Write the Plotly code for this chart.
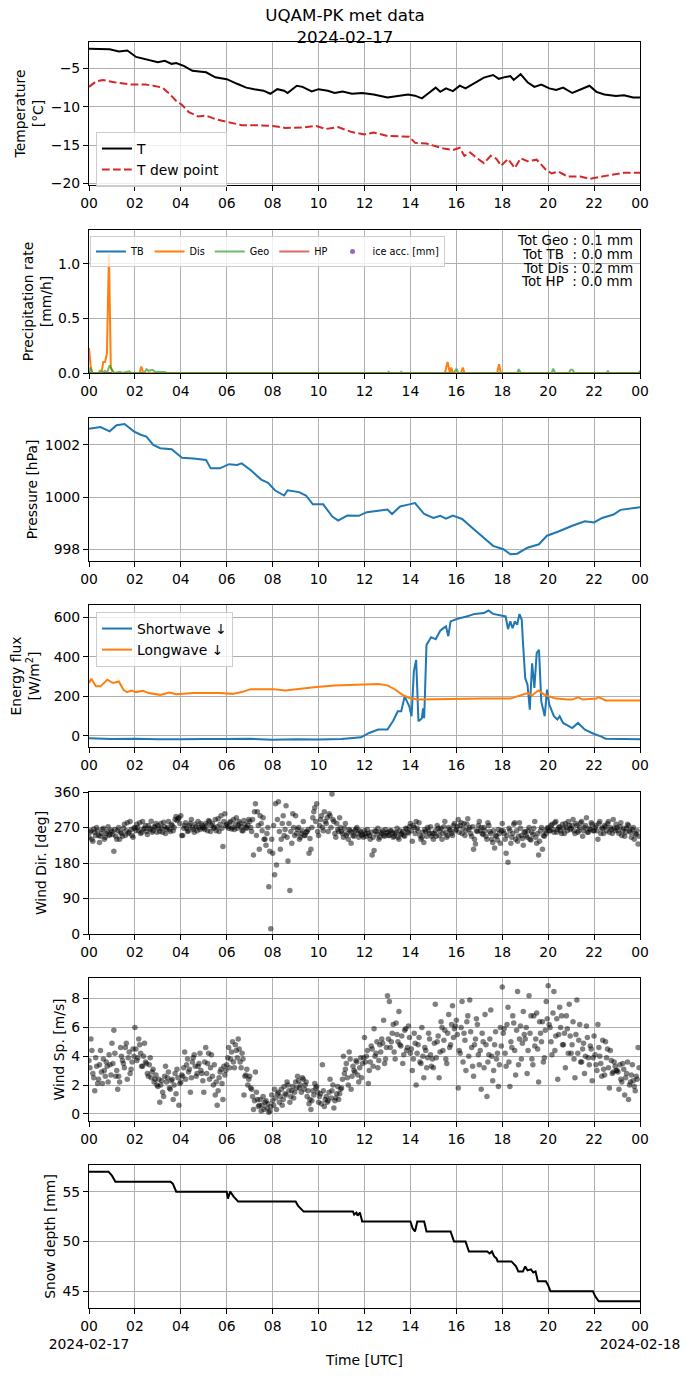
import pandas as pd
import plotly.graph_objects as go
from plotly.subplots import make_subplots

DAY = pd.Timestamp('2024-02-17')

# ---- air temperature and dew point [degC], time in hours UTC
t_hours = [0, 0.9, 1.3, 1.67, 2.05, 2.6, 3.0, 3.3, 3.6, 3.8, 4.15, 4.5, 5.1, 5.5, 6.0, 6.45,
           6.85, 7.2, 7.6, 7.9, 8.2, 8.5, 8.65, 9.05, 9.3, 9.7, 10.0, 10.4, 10.7, 11.05, 11.45,
           11.9, 12.4, 13.0, 13.55, 13.9, 14.2, 14.5, 14.8, 15.1, 15.3, 15.55, 15.85, 16.15,
           16.4, 16.8, 17.2, 17.6, 17.85, 18.15, 18.35, 18.5, 18.8, 19.1, 19.4, 19.7, 20.05,
           20.35, 20.65, 21.05, 21.4, 21.8, 22.1, 22.45, 22.95, 23.3, 23.7, 24.0]
t_air = [-2.43, -2.5, -2.8, -2.65, -3.5, -3.85, -4.2, -4.0, -4.4, -4.3, -4.7, -5.3, -5.5, -6.15,
         -6.4, -7.0, -7.5, -7.7, -7.9, -8.3, -7.7, -7.9, -8.2, -7.25, -7.4, -8.0, -7.7, -7.9,
         -8.2, -8.0, -8.3, -8.2, -8.4, -8.8, -8.6, -8.4, -8.55, -8.9, -8.2, -7.5, -8.05, -7.6,
         -7.95, -7.25, -7.6, -6.95, -6.2, -5.85, -6.35, -6.1, -6.0, -6.5, -5.75, -6.8, -7.4,
         -7.1, -7.6, -7.8, -7.5, -8.2, -7.75, -7.25, -8.05, -8.4, -8.6, -8.5, -8.8, -8.8]

td_hours = [0, 0.3, 0.6, 1.1, 1.85, 2.45, 2.8, 3.2, 3.5, 3.8, 4.05, 4.35, 4.75, 5.1, 5.5, 5.9,
            6.25, 6.65, 7.2, 8.0, 8.55, 9.3, 9.9, 10.3, 10.85, 11.45, 12.0, 12.4, 13.0, 13.95,
            14.2, 14.7, 15.1, 15.45, 15.85, 16.15, 16.35, 16.6, 16.9, 17.2, 17.5, 17.75, 17.95,
            18.25, 18.55, 18.8, 19.1, 19.5, 19.9, 20.15, 20.45, 20.85, 21.4, 21.8, 22.35, 22.95,
            23.3, 24.0]
t_dew = [-7.4, -6.7, -6.5, -6.8, -7.1, -7.1, -7.25, -7.5, -8.3, -9.25, -9.75, -10.7, -11.25,
         -11.15, -11.6, -11.85, -12.05, -12.4, -12.4, -12.5, -12.75, -12.7, -12.5, -12.9, -12.65,
         -13.3, -13.6, -13.35, -13.8, -13.9, -14.7, -14.8, -15.15, -15.45, -15.65, -15.35, -16.4,
         -15.95, -16.7, -17.35, -16.4, -16.8, -17.7, -16.8, -18.0, -16.7, -17.1, -16.9, -18.2,
         -18.7, -18.45, -19.1, -19.1, -19.4, -19.1, -18.8, -18.6, -18.6]

# ---- precipitation rate [mm/h]
dis_hours = [0, 0.08, 0.15, 0.55, 0.62, 0.7, 0.78, 0.87, 0.95, 1.05, 2.2, 2.28, 2.36, 15.5,
             15.62, 15.72, 15.78, 15.85, 16.2, 16.28, 16.36, 17.78, 17.86, 17.94, 24.0]
dis_rate = [0.23, 0.05, 0.0, 0.0, 0.1, 0.1, 0.18, 1.09, 0.05, 0.0, 0.0, 0.06, 0.0, 0.0,
            0.1, 0.0, 0.05, 0.0, 0.0, 0.05, 0.0, 0.0, 0.08, 0.0, 0.0]
geo_hours = [0, 0.07, 0.14, 0.4, 0.48, 0.56, 0.7, 0.78, 0.9, 1.0, 1.1, 1.35, 1.45, 1.75, 1.85,
             2.4, 2.5, 2.6, 2.75, 2.9, 3.3, 3.4, 13.0, 13.05, 13.1, 13.55, 13.6, 13.65, 15.9,
             16.0, 16.1, 18.65, 18.72, 18.8, 20.15, 20.22, 20.3, 20.9, 20.98, 21.06, 21.14,
             22.55, 22.6, 22.65, 23.95, 24.0]
geo_rate = [0.0, 0.05, 0.0, 0.0, 0.02, 0.0, 0.02, 0.0, 0.07, 0.03, 0.0, 0.01, 0.0, 0.015, 0.0,
            0.0, 0.035, 0.02, 0.03, 0.01, 0.01, 0.0, 0.0, 0.01, 0.0, 0.0, 0.01, 0.0, 0.0,
            0.04, 0.0, 0.0, 0.035, 0.0, 0.0, 0.04, 0.0, 0.0, 0.03, 0.03, 0.0,
            0.0, 0.02, 0.0, 0.0, 0.02]
tb_hours = [0, 24.0]
tb_rate = [0.0, 0.0]
hp_hours = [0, 24.0]
hp_rate = [0.0, 0.0]
ice_hours = [0, 24.0]
ice_acc = [None, None]   # no icing recorded
totals = ['Tot Geo : 0.1 mm', 'Tot TB\u00a0\u00a0: 0.0 mm',
          'Tot Dis : 0.2 mm', 'Tot HP\u00a0\u00a0: 0.0 mm']

# ---- pressure [hPa]
p_hours = [0, 0.5, 0.9, 1.2, 1.55, 1.95, 2.25, 2.5, 2.8, 3.1, 3.6, 4.05, 4.55, 5.1, 5.3, 5.7,
           6.1, 6.45, 6.65, 7.05, 7.5, 7.8, 8.1, 8.5, 8.65, 9.15, 9.45, 9.75, 10.2, 10.6, 10.85,
           11.25, 11.75, 12.1, 12.6, 13.0, 13.2, 13.55, 13.95, 14.2, 14.6, 15.0, 15.3, 15.55,
           15.85, 16.25, 16.7, 17.2, 17.6, 18.05, 18.35, 18.65, 19.1, 19.6, 19.95, 20.45, 21.05,
           21.6, 22.0, 22.35, 22.85, 23.15, 23.7, 24.0]
pressure = [1002.62, 1002.68, 1002.52, 1002.75, 1002.8, 1002.52, 1002.39, 1002.32, 1002.0,
            1001.87, 1001.83, 1001.51, 1001.48, 1001.42, 1001.1, 1001.1, 1001.26, 1001.23,
            1001.29, 1001.03, 1000.67, 1000.55, 1000.26, 1000.06, 1000.26, 1000.19, 1000.06,
            999.72, 999.72, 999.25, 999.1, 999.29, 999.28, 999.42, 999.48, 999.52, 999.35,
            999.64, 999.72, 999.77, 999.35, 999.2, 999.28, 999.17, 999.29, 999.16, 998.81,
            998.45, 998.13, 998.0, 997.81, 997.83, 998.06, 998.19, 998.52, 998.68, 998.9,
            999.07, 999.03, 999.2, 999.33, 999.51, 999.58, 999.61]

# ---- radiation [W/m2]
sw_hours = [0, 1.0, 2.0, 3.0, 4.0, 5.0, 6.0, 7.0, 8.0, 9.0, 10.0, 11.0, 11.85, 12.2, 12.6, 13.0,
            13.25, 13.45, 13.6, 13.75, 13.95, 14.05, 14.15, 14.25, 14.35, 14.5, 14.55, 14.6,
            14.7, 14.9, 15.1, 15.3, 15.45, 15.55, 15.65, 15.75, 16.05, 16.45, 16.8, 17.2, 17.4,
            17.6, 17.95, 18.15, 18.25, 18.35, 18.45, 18.55, 18.65, 18.75, 18.85, 18.9, 19.0,
            19.1, 19.2, 19.3, 19.4, 19.5, 19.6, 19.7, 19.85, 19.95, 20.05, 20.25, 20.4, 20.5,
            20.65, 21.05, 21.3, 21.6, 22.0, 22.3, 22.5, 24.0]
shortwave = [-12, -15, -14, -17, -17, -15, -15, -14, -19, -17, -18, -15, -7, 15, 32, 32,
             77, 125, 125, 200, 150, 100, 327, 385, 74, 90, 140, 90,
             460, 500, 490, 533, 547, 555, 505, 580, 593, 605, 618, 622, 635,
             618, 610, 605, 541, 580, 545, 580, 563, 617, 588, 478, 293,
             260, 133, 368, 243, 419, 436, 175, 100, 235, 158, 100, 83, 100,
             66, 40, 66, 32, 10, -2, -14, -17]
lw_hours = [0, 0.1, 0.3, 0.5, 0.8, 1.05, 1.3, 1.5, 1.65, 1.85, 2.05, 2.35, 2.6, 3.1, 3.5, 3.8,
            4.55, 5.7, 6.25, 6.65, 7.05, 8.0, 8.55, 9.15, 9.9, 10.7, 11.85, 12.6, 13.0, 13.35,
            13.65, 13.95, 14.3, 15.3, 17.2, 18.35, 18.65, 18.9, 19.1, 19.3, 19.5, 19.6, 19.8,
            20.05, 20.35, 20.85, 21.05, 21.3, 21.5, 22.1, 22.2, 22.5, 24.0]
longwave = [268, 290, 251, 251, 285, 268, 276, 234, 222, 230, 222, 229, 217, 208, 220, 211,
            217, 217, 213, 222, 237, 237, 230, 239, 248, 256, 259, 263, 256, 234,
            208, 192, 185, 187, 189, 189, 200, 208, 217, 205, 225, 230, 211,
            200, 189, 184, 184, 196, 184, 189, 197, 180, 179]

# ---- wind: two interleaved samples, each one value every 5 minutes (12 per hour)
wind_dir_a = [
    245, 262, 235, 258, 270, 250, 248, 265, 240, 255, 272, 252,
    260, 210, 248, 262, 240, 255, 268, 250, 282, 258, 265, 245,
    270, 278, 262, 255, 285, 268, 260, 275, 265, 258, 272, 280,
    275, 260, 268, 283, 255, 270, 265, 278, 262, 290, 288, 295,
    300, 250, 275, 268, 262, 280, 270, 258, 272, 285, 265, 275,
    270, 280, 262, 285, 275, 268, 290, 272, 260, 300, 222, 305,
    278, 268, 285, 270, 265, 295, 275, 280, 262, 288, 270, 276,
    285, 260, 200, 330, 310, 215, 280, 295, 240, 255, 120, 13,
    205, 150, 175, 335, 215, 280, 250, 325, 185, 110, 230, 270,
    300, 265, 240, 255, 285, 250, 260, 205, 215, 295, 320, 330,
    250, 290, 270, 310, 280, 260, 300, 355, 285, 245, 265, 295,
    260, 245, 280, 255, 265, 230, 250, 262, 270, 245, 258, 252,
    262, 248, 255, 240, 200, 212, 260, 268, 245, 255, 250, 265,
    258, 250, 262, 245, 255, 268, 240, 252, 260, 248, 266, 256,
    280, 235, 270, 285, 262, 250, 245, 232, 260, 270, 255, 248,
    240, 262, 275, 250, 268, 255, 285, 245, 270, 262, 250, 280,
    265, 290, 275, 255, 280, 262, 292, 270, 248, 215, 228, 260,
    285, 270, 252, 262, 240, 275, 255, 232, 218, 248, 265, 230,
    280, 255, 205, 182, 262, 245, 278, 240, 235, 282, 250, 225,
    260, 245, 270, 238, 252, 285, 230, 200, 262, 215, 248, 255,
    270, 262, 278, 258, 285, 265, 272, 255, 268, 280, 262, 275,
    268, 290, 255, 275, 262, 282, 248, 270, 295, 258, 265, 278,
    262, 275, 240, 285, 268, 255, 272, 280, 258, 265, 290, 262,
    270, 255, 282, 262, 248, 268, 275, 258, 265, 240, 252, 228,
]
wind_dir_b = [
    258, 240, 266, 250, 262, 232, 255, 268, 245, 260, 250, 263,
    252, 265, 240, 270, 258, 248, 278, 262, 255, 285, 250, 268,
    262, 270, 282, 258, 266, 275, 252, 268, 286, 262, 270, 258,
    268, 280, 258, 272, 266, 285, 260, 275, 270, 298, 292, 280,
    250, 268, 282, 260, 275, 290, 265, 278, 262, 270, 280, 268,
    265, 275, 288, 260, 280, 270, 262, 292, 278, 268, 285, 275,
    272, 282, 266, 290, 278, 268, 285, 272, 262, 278, 268, 290,
    270, 290, 310, 250, 275, 300, 262, 240, 225, 270, 210, 240,
    275, 330, 290, 260, 240, 300, 265, 245, 280, 260, 305, 250,
    255, 270, 245, 262, 250, 258, 265, 242, 270, 310, 285, 260,
    275, 300, 262, 285, 295, 305, 270, 290, 255, 280, 260, 270,
    255, 268, 250, 240, 262, 258, 248, 266, 255, 262, 250, 245,
    255, 265, 250, 258, 245, 262, 252, 240, 258, 262, 248, 256,
    250, 262, 256, 248, 258, 245, 262, 255, 250, 268, 258, 272,
    262, 275, 255, 268, 282, 240, 258, 265, 248, 262, 272, 255,
    255, 248, 268, 262, 240, 272, 258, 250, 265, 255, 275, 262,
    272, 258, 282, 268, 250, 278, 265, 255, 272, 240, 262, 275,
    262, 255, 270, 248, 282, 260, 240, 262, 250, 238, 255, 262,
    262, 240, 250, 268, 230, 255, 282, 262, 248, 268, 242, 258,
    250, 262, 240, 258, 268, 245, 255, 235, 270, 250, 262, 268,
    262, 275, 265, 282, 258, 270, 262, 278, 255, 270, 285, 265,
    275, 262, 280, 258, 270, 285, 262, 275, 258, 268, 282, 262,
    270, 262, 280, 255, 268, 275, 262, 285, 270, 255, 268, 278,
    262, 272, 250, 268, 258, 278, 262, 245, 270, 255, 262, 248,
]
wind_speed_a = [
    3.7, 5.2, 2.8, 1.6, 3.3, 2.4, 4.4, 2.1, 3.0, 3.6, 2.2, 3.4,
    4.9, 5.8, 2.6, 1.7, 2.2, 4.0, 3.5, 4.6, 2.4, 4.3, 3.1, 4.5,
    6.0, 3.7, 5.2, 4.2, 3.3, 4.9, 3.5, 2.6, 3.9, 2.9, 2.2, 2.7,
    1.9, 0.8, 2.3, 1.2, 3.3, 2.5, 1.8, 2.3, 1.0, 2.8, 3.1, 0.6,
    2.2, 2.6, 4.3, 3.4, 2.9, 1.5, 3.6, 4.1, 2.6, 3.3, 4.2, 2.8,
    1.5, 4.6, 3.5, 2.4, 4.1, 2.0, 1.3, 0.6, 2.5, 3.1, 1.0, 2.7,
    3.4, 4.6, 3.8, 5.0, 3.2, 4.4, 5.2, 3.6, 4.2, 1.3, 2.7, 2.0,
    2.6, 1.7, 0.3, 2.9, 1.0, 0.6, 0.2, 1.2, 0.8, 0.4, 0.1, 0.5,
    0.9, 1.7, 0.3, 1.5, 1.2, 0.6, 1.9, 1.3, 2.0, 0.8, 1.6, 1.1,
    2.2, 2.6, 1.8, 1.5, 2.4, 2.0, 1.2, 0.7, 0.3, 1.6, 2.1, 1.9,
    0.8, 1.4, 3.4, 0.5, 1.2, 0.9, 2.4, 1.6, 0.4, 1.1, 1.9, 1.4,
    1.8, 4.0, 3.1, 2.5, 4.3, 1.7, 3.3, 2.9, 3.6, 2.2, 3.9, 3.5,
    5.3, 4.0, 2.1, 3.6, 4.5, 5.9, 4.2, 3.2, 4.8, 5.2, 6.5, 3.8,
    8.2, 7.8, 5.0, 6.2, 3.8, 5.5, 7.1, 4.7, 3.5, 5.8, 4.4, 6.1,
    4.2, 3.0, 5.6, 2.0, 4.8, 3.6, 6.0, 2.5, 4.4, 3.9, 5.2, 3.3,
    3.2, 7.6, 5.0, 2.5, 6.4, 4.4, 5.8, 3.5, 6.9, 4.8, 7.5, 5.9,
    6.5, 1.8, 4.2, 7.8, 5.6, 3.0, 6.8, 7.9, 4.6, 2.6, 5.2, 6.2,
    3.4, 1.7, 5.0, 6.9, 1.2, 4.1, 7.2, 2.3, 4.8, 3.8, 1.9, 6.0,
    8.8, 5.9, 3.3, 7.4, 1.9, 4.6, 6.3, 2.7, 8.5, 5.2, 3.8, 7.1,
    5.2, 2.8, 8.2, 6.8, 3.4, 4.7, 7.0, 2.2, 5.6, 6.4, 3.9, 7.8,
    8.9, 6.0, 4.1, 8.5, 5.4, 2.4, 7.4, 6.8, 4.8, 3.2, 5.9, 7.6,
    4.2, 6.4, 2.5, 7.9, 5.1, 3.6, 4.5, 2.8, 6.1, 3.9, 4.7, 2.3,
    5.4, 3.4, 6.2, 4.0, 2.6, 3.1, 5.0, 4.5, 1.8, 3.7, 2.9, 3.3,
    3.0, 1.7, 2.4, 3.5, 1.3, 2.8, 1.0, 2.2, 3.4, 1.9, 2.6, 4.6,
]
wind_speed_b = [
    3.2, 4.4, 2.5, 3.9, 2.1, 3.4, 2.9, 3.8, 2.6, 3.3, 4.1, 2.7,
    3.5, 4.2, 3.0, 2.6, 4.6, 3.7, 3.2, 4.9, 3.9, 2.8, 3.6, 4.0,
    4.5, 3.9, 4.8, 3.3, 4.0, 3.6, 2.8, 3.4, 2.5, 3.1, 2.4, 2.0,
    2.4, 2.0, 1.5, 2.6, 2.2, 2.9, 1.7, 2.4, 2.0, 1.4, 2.5, 2.1,
    2.7, 3.2, 2.4, 3.8, 3.1, 2.5, 3.9, 3.3, 2.8, 3.5, 3.0, 2.3,
    3.6, 2.8, 4.2, 3.2, 2.6, 3.4, 2.2, 1.6, 2.9, 2.1, 3.3, 3.0,
    3.9, 3.2, 4.3, 3.6, 4.8, 3.9, 4.5, 3.2, 3.8, 2.6, 3.1, 2.4,
    1.8, 1.2, 0.9, 1.5, 0.5, 1.0, 0.6, 0.3, 0.9, 0.7, 0.2, 1.3,
    0.6, 1.1, 1.4, 0.8, 1.7, 1.0, 1.4, 2.2, 1.6, 1.2, 1.9, 1.5,
    1.8, 2.3, 2.0, 2.5, 1.7, 2.2, 1.6, 1.0, 0.9, 1.3, 1.8, 1.5,
    1.2, 0.7, 1.6, 1.0, 0.8, 1.5, 1.1, 2.0, 0.9, 1.4, 1.0, 1.7,
    2.4, 2.8, 3.5, 2.0, 3.8, 2.6, 3.0, 3.7, 2.7, 3.2, 2.5, 3.9,
    3.6, 4.4, 3.0, 4.7, 3.3, 4.0, 5.0, 3.7, 4.3, 4.9, 3.5, 4.6,
    5.2, 4.6, 5.6, 4.3, 6.3, 5.0, 4.8, 5.4, 4.1, 5.9, 4.6, 5.3,
    4.5, 3.8, 4.9, 4.2, 5.3, 3.5, 4.0, 4.6, 3.2, 5.6, 4.1, 3.8,
    4.9, 3.9, 5.4, 4.3, 6.0, 5.1, 3.8, 5.6, 4.6, 6.2, 5.3, 6.1,
    5.5, 4.4, 6.0, 3.6, 5.1, 6.4, 4.0, 5.7, 3.3, 4.8, 6.6, 4.1,
    4.4, 5.6, 3.2, 4.8, 3.6, 5.2, 4.0, 3.0, 5.7, 4.2, 3.4, 4.7,
    5.6, 4.2, 6.2, 3.6, 5.0, 6.8, 4.4, 5.8, 3.4, 6.1, 4.9, 5.5,
    6.0, 4.4, 5.6, 3.8, 6.8, 5.2, 4.5, 6.4, 5.0, 3.6, 5.8, 6.6,
    6.2, 5.0, 7.0, 4.4, 6.6, 5.5, 6.0, 4.8, 5.6, 6.8, 4.2, 5.4,
    4.8, 3.8, 5.5, 4.2, 6.2, 3.6, 4.9, 4.0, 5.3, 3.4, 4.5, 3.9,
    4.1, 3.0, 4.6, 3.5, 5.1, 2.7, 3.9, 3.2, 4.4, 2.8, 3.6, 3.0,
    2.9, 3.4, 2.2, 3.1, 2.5, 3.6, 2.0, 2.7, 2.3, 1.6, 2.4, 3.2,
]

# ---- snow depth [mm]
snow_hours = [0, 0.85, 1.0, 1.15, 3.55, 3.65, 3.8, 6.0, 6.05, 6.15, 6.3, 6.5, 9.0, 9.1, 9.35,
              11.5, 11.55, 11.65, 11.7, 11.8, 11.9, 14.0, 14.1, 14.2, 14.3, 14.6, 14.7, 15.75,
              15.9, 16.4, 16.55, 17.35, 17.45, 17.55, 17.65, 17.75, 17.8, 18.4, 18.6, 18.7,
              18.9, 19.0, 19.1, 19.25, 19.35, 19.45, 19.55, 19.9, 20.0, 20.1, 21.95, 22.05,
              22.2, 24.0]
snow_depth = [57, 57, 56.6, 56, 56, 55.8, 55, 55, 54.3, 55, 54.5, 54, 54, 53.6, 53,
              53, 52.7, 52.9, 52.6, 52.9, 52, 52, 51.3, 51, 52, 52, 51, 51,
              50, 50, 49, 49, 48.8, 49, 48.5, 48.3, 48, 48, 47.5, 47,
              47, 47.5, 47.1, 47.2, 46.9, 47.0, 46, 46, 45.6, 45, 45, 44.5,
              44, 44]

tick_hours = list(range(0, 25, 2))
tick_text = ['%02d' % (h % 24) for h in tick_hours]
bottom_text = list(tick_text)
bottom_text[0] = '00<br>2024-02-17'
bottom_text[-1] = '00<br>2024-02-18'


def to_time(hours):
    return [DAY + pd.Timedelta(hours=h) for h in hours]


# sample a on the 5-minute marks, sample b 2.5 minutes later
wind_time = ([DAY + pd.Timedelta(minutes=5 * i) for i in range(len(wind_speed_a))]
             + [DAY + pd.Timedelta(minutes=5 * i + 2.5) for i in range(len(wind_speed_b))])
wind_dir = wind_dir_a + wind_dir_b
wind_speed = wind_speed_a + wind_speed_b

FONT = 'DejaVu Sans'
FS = 13.9

fig = make_subplots(rows=7, cols=1)

fig.add_trace(go.Scatter(x=to_time(t_hours), y=t_air, name='T', mode='lines',
                         line=dict(color='black', width=2), legend='legend'), row=1, col=1)
fig.add_trace(go.Scatter(x=to_time(td_hours), y=t_dew, name='T dew point', mode='lines',
                         line=dict(color='#d62728', width=2, dash='7.7px,3.3px'),
                         legend='legend'), row=1, col=1)

fig.add_trace(go.Scatter(x=to_time(tb_hours), y=tb_rate, name='TB', mode='lines',
                         line=dict(color='#1f77b4', width=2), legend='legend2', legendrank=1),
              row=2, col=1)
fig.add_trace(go.Scatter(x=to_time(hp_hours), y=hp_rate, name='HP', mode='lines',
                         line=dict(color='rgba(214,39,40,0.7)', width=2), legend='legend2',
                         legendrank=4), row=2, col=1)
fig.add_trace(go.Scatter(x=to_time(dis_hours), y=dis_rate, name='Dis', mode='lines',
                         line=dict(color='#ff7f0e', width=2, simplify=False), legend='legend2',
                         legendrank=2), row=2, col=1)
fig.add_trace(go.Scatter(x=to_time(geo_hours), y=geo_rate, name='Geo', mode='lines',
                         line=dict(color='rgba(44,160,44,0.7)', width=2, simplify=False),
                         legend='legend2', legendrank=3), row=2, col=1)
fig.add_trace(go.Scatter(x=to_time(ice_hours), y=ice_acc, name='ice acc. [mm]', mode='markers',
                         marker=dict(color='#9467bd', size=5), legend='legend2', legendrank=5),
              row=2, col=1)

fig.add_trace(go.Scatter(x=to_time(p_hours), y=pressure, mode='lines', showlegend=False,
                         line=dict(color='#1f77b4', width=2)), row=3, col=1)

fig.add_trace(go.Scatter(x=to_time(sw_hours), y=shortwave, name='Shortwave \u2193', mode='lines',
                         line=dict(color='#1f77b4', width=2, simplify=False), legend='legend3'),
              row=4, col=1)
fig.add_trace(go.Scatter(x=to_time(lw_hours), y=longwave, name='Longwave \u2193', mode='lines',
                         line=dict(color='#ff7f0e', width=2), legend='legend3'), row=4, col=1)

fig.add_trace(go.Scatter(x=wind_time, y=wind_dir, mode='markers', showlegend=False,
                         marker=dict(color='rgba(0,0,0,0.5)', size=5.5, line=dict(width=0))),
              row=5, col=1)
fig.add_trace(go.Scatter(x=wind_time, y=wind_speed, mode='markers', showlegend=False,
                         marker=dict(color='rgba(0,0,0,0.5)', size=5.5, line=dict(width=0))),
              row=6, col=1)

fig.add_trace(go.Scatter(x=to_time(snow_hours), y=snow_depth, mode='lines', showlegend=False,
                         line=dict(color='black', width=2)), row=7, col=1)

# panel positions, measured in pixels from the top of the picture
H_TOP, H_BOT = 42, 1308
panels = [(42, 185), (230, 373), (418, 561), (605, 747), (792, 934), (978, 1121), (1165, 1308)]
y_titles = ['Temperature<br>[°C]', 'Precipitation rate<br>[mm/h]', 'Pressure [hPa]',
            'Energy flux<br>[W/m<sup>2</sup>]', 'Wind Dir. [deg]', 'Wind Sp. [m/s]',
            'Snow depth [mm]']
y_ranges = [[-20.2, -1.55], [0, 1.31], [997.55, 1003.03], [-56, 663], [0, 360],
            [-0.5, 9.43], [43.33, 57.67]]
y_ticks = [[-20, -15, -10, -5], [0, 0.5, 1.0], [998, 1000, 1002], [0, 200, 400, 600],
           [0, 90, 180, 270, 360], [0, 2, 4, 6, 8], [45, 50, 55]]
y_standoff = [3, 3, 3, 10, 3, 3, 3]

span = H_BOT - H_TOP
axis_style = dict(showline=True, linecolor='black', linewidth=1.1, mirror=True,
                  ticks='outside', ticklen=5, tickwidth=1.1, tickcolor='black',
                  showgrid=True, gridcolor='#b0b0b0', gridwidth=1.1, zeroline=False,
                  automargin=False, tickangle=0,
                  tickfont=dict(family=FONT, size=FS, color='black'))

for i, (top, bot) in enumerate(panels):
    r = i + 1
    fig.update_yaxes(domain=[(H_BOT - bot) / span, (H_BOT - top) / span],
                     range=y_ranges[i], tickvals=y_ticks[i],
                     tickformat='.1f' if r == 2 else None,
                     title=dict(text=y_titles[i], standoff=y_standoff[i],
                                font=dict(family=FONT, size=FS, color='black')),
                     row=r, col=1, **axis_style)
    fig.update_xaxes(type='date', range=[DAY, DAY + pd.Timedelta(hours=24)],
                     tickvals=to_time(tick_hours),
                     ticktext=bottom_text if r == 7 else tick_text,
                     row=r, col=1, **axis_style)

fig.update_xaxes(title=dict(text='Time [UTC]', font=dict(family=FONT, size=FS, color='black'),
                            standoff=4), row=7, col=1)

# precipitation totals, one line each so the line spacing can follow the original
for k, txt in enumerate(totals):
    fig.add_annotation(text=txt, xref='paper', yref='paper', x=(635 - 89) / 551,
                       y=(H_BOT - (240 + 13.8 * k)) / span, xanchor='right', yanchor='middle',
                       height=14, valign='middle', showarrow=False,
                       font=dict(family=FONT, size=13.4, color='black'))

legend_box = dict(bgcolor='rgba(255,255,255,0.8)', bordercolor='#cccccc', borderwidth=1,
                  xanchor='left', yanchor='top', font=dict(family=FONT, size=FS, color='black'))

fig.update_layout(
    width=690, height=1377,
    margin=dict(l=89, r=50, t=H_TOP, b=1377 - H_BOT),
    paper_bgcolor='white', plot_bgcolor='white',
    font=dict(family=FONT, size=FS, color='black'),
    title=dict(text='UQAM-PK met data<br>2024-02-17', x=0.5, xref='container',
               y=1 - 21 / 1377, yanchor='middle',
               font=dict(family=FONT, size=16.7, color='black')),
    legend=dict(x=(96 - 89) / 551, y=(H_BOT - 132) / span, **legend_box),
    legend2=dict(x=(90 - 89) / 551, y=(H_BOT - 236) / span, orientation='h',
                 itemwidth=30, traceorder='normal',
                 bgcolor='rgba(255,255,255,0.8)', bordercolor='#cccccc', borderwidth=1,
                 xanchor='left', yanchor='top',
                 font=dict(family=FONT, size=9.7, color='black')),
    legend3=dict(x=(96 - 89) / 551, y=(H_BOT - 612) / span, **legend_box),
)

# the page body keeps its default 8px margin otherwise, which shifts the figure
fig.write_html('out.html', config={'displayModeBar': False},
               post_script="document.body.style.margin='0';")
